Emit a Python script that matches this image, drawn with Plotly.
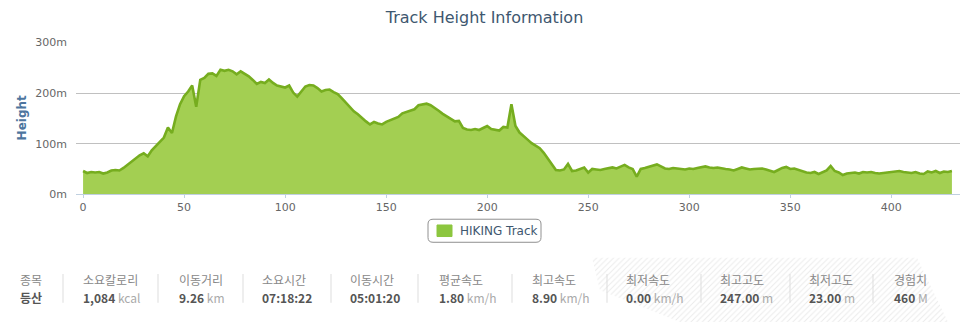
import plotly.graph_objects as go

# ---------------- data ----------------
distance = list(range(0, 432, 2))
height = [
    46, 42, 44, 43, 44, 41, 43, 47, 48, 47,
    52, 58, 64, 70, 77, 81, 75, 87, 95, 102,
    112, 132, 121, 154, 178, 194, 203, 215, 173, 226,
    230, 238, 239, 234, 246, 244, 246, 243, 237, 243,
    238, 233, 226, 218, 222, 220, 227, 220, 215, 213,
    211, 215, 201, 193, 203, 213, 216, 215, 210, 203,
    206, 207, 202, 198, 190, 181, 172, 164, 158, 150,
    144, 138, 143, 140, 138, 143, 146, 150, 153, 160,
    163, 165, 168, 176, 178, 179, 176, 171, 165, 159,
    154, 148, 144, 145, 131, 128, 127, 129, 127, 131,
    135, 129, 127, 126, 133, 132, 178, 135, 122, 114,
    108, 101, 96, 91, 82, 70, 59, 48, 47, 49,
    60, 46, 47, 50, 53, 43, 50, 49, 48, 50,
    52, 53, 51, 54, 58, 53, 50, 35, 50, 52,
    54, 57, 59, 55, 51, 50, 52, 51, 50, 49,
    51, 50, 52, 53, 55, 53, 52, 53, 51, 50,
    49, 47, 50, 53, 51, 49, 50, 50, 51, 49,
    46, 44, 48, 52, 54, 50, 51, 48, 45, 43,
    42, 44, 40, 44, 47, 56, 46, 43, 38, 41,
    42, 43, 41, 44, 43, 44, 42, 41, 42, 43,
    45, 46, 46, 44, 43, 42, 44, 41, 40, 45,
    43, 46, 42, 45, 44, 46,
]
y_ticks = [0, 100, 200, 300]
y_tick_labels = ["0m", "100m", "200m", "300m"]
x_ticks = [0, 50, 100, 150, 200, 250, 300, 350, 400]

stat_labels = ["종목", "소요칼로리", "이동거리", "소요시간", "이동시간", "평균속도",
               "최고속도", "최저속도", "최고고도", "최저고도", "경험치"]
stat_values = ["등산", "1,084", "9.26", "07:18:22", "05:01:20", "1.80",
               "8.90", "0.00", "247.00", "23.00", "460"]
stat_units = ["", "kcal", "km", "", "", "km/h", "km/h", "km/h", "m", "m", "M"]

series_name = "HIKING Track"
title_text = "Track Height Information"

# ---------------- layout helpers ----------------
W, H = 969, 329
PL, PR, PT, PB = 76, 960, 38, 196
FONT = "DejaVu Sans, Verdana, sans-serif"
KFONT = "Noto Sans CJK KR, sans-serif"
LINE_C = "#76ad1f"
FILL_C = "#a3cf52"

fig = go.Figure()

# hatched background of the stats strip (full-figure pixel axes)
fig.add_trace(go.Scatter(
    x=[592, 917, 948, 680, 600], y=[262, 262, 329, 329, 296],
    xaxis="x2", yaxis="y2", mode="lines", fill="toself",
    line=dict(width=0, color="rgba(0,0,0,0)"),
    fillcolor="rgba(255,255,255,0)",
    fillpattern=dict(shape="/", size=4, solidity=0.25, fgcolor="#d6d6d6", bgcolor="white"),
    hoverinfo="skip", showlegend=False,
))

fig.add_trace(go.Scatter(
    x=distance, y=height, name=series_name, mode="lines",
    fill="tozeroy", fillcolor=FILL_C,
    line=dict(color=LINE_C, width=2.6), showlegend=False,
))

fig.update_layout(
    width=W, height=H, margin=dict(l=0, r=0, t=0, b=0),
    paper_bgcolor="white", plot_bgcolor="rgba(0,0,0,0)",
    font=dict(family=FONT, color="#666", size=11),
    title=dict(text=title_text, x=0.5, xanchor="center", y=1 - 17 / H, yanchor="middle",
               yref="container", font=dict(family=FONT, size=16, color="#3E576F")),
    xaxis=dict(domain=[PL / W, PR / W], range=[-3.5, 434], tickvals=x_ticks,
               showgrid=False, zeroline=False, showline=True, linecolor="#C0D0E0",
               ticks="outside", ticklen=3, tickcolor="#C0D0E0",
               tickfont=dict(family=FONT, size=11, color="#666")),
    yaxis=dict(domain=[1 - PB / H, 1 - PT / H], range=[0, 300], tickmode="array",
               tickvals=y_ticks, ticktext=y_tick_labels,
               showgrid=True, gridcolor="#C0C0C0", gridwidth=1,
               zeroline=False, showline=False, ticks="", ticklabelstandoff=8,
               tickfont=dict(family=FONT, size=11, color="#666")),
    xaxis2=dict(domain=[0, 1], range=[0, W], visible=False, anchor="y2", fixedrange=True),
    yaxis2=dict(domain=[0, 1], range=[H, 0], visible=False, anchor="x2", fixedrange=True),
    showlegend=False,
)

shapes = []
annotations = []

# y-axis title
annotations.append(dict(text="<b>Height</b>", x=22, y=117, xref="x2", yref="y2",
                        textangle=-90, showarrow=False,
                        font=dict(family=FONT, size=12, color="#4d759e")))

# legend box (drawn manually, Highcharts style)
x0, x1, y0, y1, r = 428, 541, 222, 246, 5
shapes.append(dict(type="path", xref="x2", yref="y2",
                   path=f"M{x0+r},{y0} L{x1-r},{y0} Q{x1},{y0} {x1},{y0+r} L{x1},{y1-r} "
                        f"Q{x1},{y1} {x1-r},{y1} L{x0+r},{y1} Q{x0},{y1} {x0},{y1-r} "
                        f"L{x0},{y0+r} Q{x0},{y0} {x0+r},{y0} Z",
                   line=dict(color="#909090", width=1), fillcolor="white", layer="below"))
shapes.append(dict(type="rect", xref="x2", yref="y2", x0=437, x1=452, y0=228, y1=240,
                   line=dict(color="#8cc63f", width=1), fillcolor="#8cc63f"))
annotations.append(dict(text=series_name, x=458, y=234.5, xref="x2", yref="y2",
                        xanchor="left", yanchor="middle", showarrow=False,
                        font=dict(family=FONT, size=12, color="#3E576F")))

# stats strip
col_x = [18, 81, 177, 260, 348, 437, 530, 624, 718, 807, 892]
sep_x = [63, 158, 243, 331, 418, 512, 607, 701, 790, 873]
for sx in sep_x:
    shapes.append(dict(type="line", xref="x2", yref="y2", x0=sx, x1=sx, y0=279, y1=309,
                       line=dict(color="#dddddd", width=1)))
for i, lab in enumerate(stat_labels):
    annotations.append(dict(text=lab, x=col_x[i], y=285, xref="x2", yref="y2",
                            xanchor="left", yanchor="middle", showarrow=False,
                            font=dict(family=KFONT, size=12, color="#888")))
    if stat_units[i]:
        txt = f"<b>{stat_values[i]}</b> <span style='color:#aaaaaa'>{stat_units[i]}</span>"
    else:
        txt = f"<b>{stat_values[i]}</b>"
    annotations.append(dict(text=txt, x=col_x[i], y=303, xref="x2", yref="y2",
                            xanchor="left", yanchor="middle", showarrow=False,
                            font=dict(family=KFONT, size=12, color="#555")))

fig.update_layout(shapes=shapes, annotations=annotations)
fig.write_html("out.html")
